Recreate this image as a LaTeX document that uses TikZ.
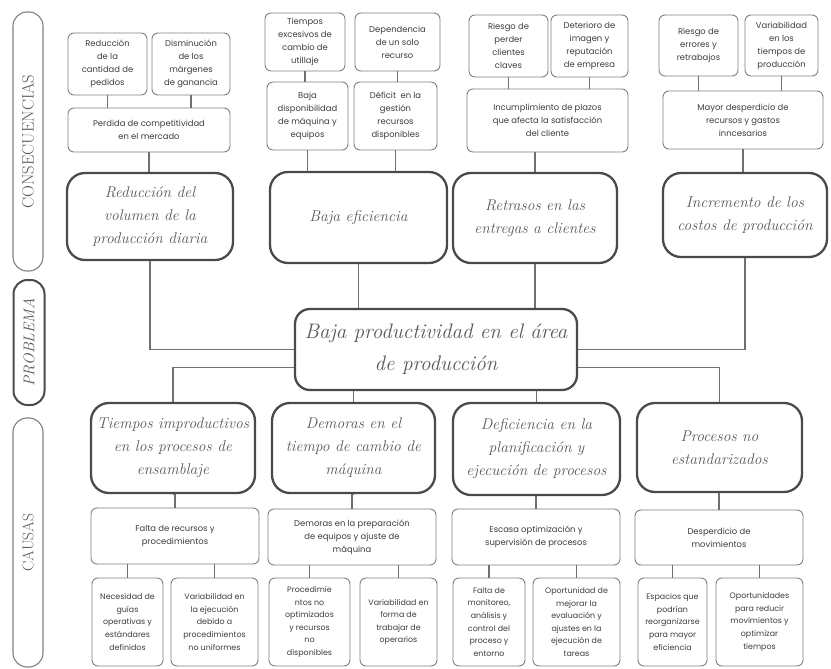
\documentclass[tikz,border=0pt]{standalone}
\usepackage{fontspec}
\newfontfamily\popfont{Poppins}
\definecolor{linec}{HTML}{707070}
\definecolor{boxc}{HTML}{808080}
\definecolor{bigc}{HTML}{4A4A4A}
\definecolor{txtc}{HTML}{3C3C3C}
\definecolor{bigtxt}{HTML}{585858}
\tikzset{
  sbox/.style={draw=boxc, line width=0.9pt, rounded corners=6pt, align=center, inner sep=1pt,
    text=txtc, font=\popfont\fontsize{8.4}{13}\selectfont},
  tbox/.style={sbox, font=\popfont\fontsize{7.9}{12.6}\selectfont},
  bbox/.style={draw=bigc, line width=2.3pt, rounded corners=18pt, align=center, inner sep=2pt,
    text=bigtxt, font=\fontsize{15.5}{23}\selectfont\itshape},
  pbox/.style={bbox, rounded corners=15pt, font=\fontsize{21}{32}\selectfont\itshape},
  pill/.style={draw=boxc, line width=1.1pt, rounded corners=14pt},
  pillb/.style={draw=bigc, line width=2pt, rounded corners=14pt},
  sidetxt/.style={rotate=90, text=bigtxt, inner sep=0pt},
  conn/.style={draw=linec, line width=1.1pt}
}
\begin{document}
\begin{tikzpicture}[x=1pt,y=-1pt]
\useasboundingbox (0,0) rectangle (831,669);
% side labels
\node[pill, minimum width=30pt, minimum height=259pt] (L1) at (28,141.5) {};
\node[sidetxt, font=\fontsize{16.5}{16}\selectfont] (L1t) at (L1) {CONSECUENCIAS};
\node[pillb, minimum width=31pt, minimum height=125pt] (L2) at (29,342.5) {};
\node[sidetxt, font=\fontsize{15.5}{15}\selectfont\itshape] (L2t) at (L2) {PROBLEMA};
\node[pill, minimum width=30pt, minimum height=249pt] (L3) at (28,542.5) {};
\node[sidetxt, font=\fontsize{15.5}{15}\selectfont] (L3t) at (L3) {CAUSAS};

% consequences column 1
\node[sbox, minimum width=79pt, minimum height=62pt] (c1a) at (107.5,64) {Reducción\\de la\\cantidad de\\pedidos};
\node[sbox, minimum width=78pt, minimum height=62pt] (c1b) at (191,64) {Disminución\\de los\\márgenes\\de ganancia};
\node[sbox, minimum width=162pt, minimum height=44pt] (c1m) at (149,130) {Perdida de competitividad\\en el mercado};
\node[bbox, minimum width=166pt, minimum height=87pt] (C1) at (150,216.5) {Reducción del\\volumen de la\\producción diaria};
% column 2
\node[sbox, minimum width=80pt, minimum height=58pt] (c2a) at (305,42) {Tiempos\\excesivos de\\cambio de\\utillaje};
\node[sbox, minimum width=85pt, minimum height=58pt] (c2b) at (397.5,42) {Dependencia\\de un solo\\recurso};
\node[sbox, minimum width=81pt, minimum height=68pt] (c2c) at (307.5,116) {Baja\\disponibilidad\\de máquina y\\equipos};
\node[sbox, minimum width=83pt, minimum height=68pt] (c2d) at (395.5,116) {Déficit\ \ en la\\gestión\\recursos\\disponibles};
\node[bbox, minimum width=177pt, minimum height=91pt] (C2) at (358.5,217.5) {Baja eficiencia};
% column 3
\node[sbox, minimum width=79pt, minimum height=62pt] (c3a) at (508.5,46) {Riesgo de\\perder\\clientes\\claves};
\node[sbox, minimum width=77pt, minimum height=62pt] (c3b) at (589.5,46) {Deterioro de\\imagen y\\reputación\\de empresa};
\node[sbox, minimum width=161pt, minimum height=63pt] (c3m) at (547.5,120.5) {Incumplimiento de plazos\\que afecta la satisfacción\\del cliente};
\node[bbox, minimum width=164pt, minimum height=90pt] (C3) at (535,218) {Retrasos en las\\entregas a clientes};
% column 4
\node[sbox, minimum width=79pt, minimum height=61pt] (c4a) at (698.5,45.5) {Riesgo de\\errores y\\retrabajos};
\node[sbox, minimum width=73pt, minimum height=61pt] (c4b) at (781.5,45.5) {Variabilidad\\en los\\tiempos de\\producción};
\node[sbox, minimum width=160pt, minimum height=58pt] (c4m) at (743,120) {Mayor desperdicio de\\recursos y gastos\\inncesarios};
\node[bbox, minimum width=164pt, minimum height=84pt] (C4) at (745,215) {Incremento de los\\costos de producción};

% problem
\node[pbox, minimum width=282pt, minimum height=81pt] (P) at (436,349.5) {Baja productividad en el área\\de producción};

% causes
\node[bbox, minimum width=164pt, minimum height=90pt] (K1) at (173,448) {Tiempos improductivos\\en los procesos de\\ensamblaje};
\node[bbox, minimum width=163pt, minimum height=90pt] (K2) at (353.5,448) {Demoras en el\\tiempo de cambio de\\máquina};
\node[bbox, minimum width=167pt, minimum height=92pt] (K3) at (536.5,449) {Deficiencia en la\\planificación y\\ejecución de procesos};
\node[bbox, minimum width=165pt, minimum height=89pt] (K4) at (719.5,447.5) {Procesos no\\estandarizados};

\node[sbox, minimum width=168pt, minimum height=56pt] (k1m) at (175,536) {Falta de recursos y\\procedimientos};
\node[sbox, minimum width=168pt, minimum height=56pt] (k2m) at (352,537) {Demoras en la preparación\\de equipos y ajuste de\\máquina};
\node[sbox, minimum width=168pt, minimum height=56pt] (k3m) at (536,537) {Escasa optimización y\\supervisión de procesos};
\node[sbox, minimum width=168pt, minimum height=55pt] (k4m) at (719,537.5) {Desperdicio de\\movimientos};

\node[tbox, minimum width=71pt, minimum height=88pt] (k1a) at (127.5,622) {Necesidad de\\guías\\operativas y\\estándares\\definidos};
\node[tbox, minimum width=87pt, minimum height=88pt] (k1b) at (214.5,622) {Variabilidad en\\la ejecución\\debido a\\procedimientos\\no uniformes};
\node[tbox, minimum width=81pt, minimum height=88pt] (k2a) at (309.5,622) {Procedimie\\ntos no\\optimizados\\y recursos\\no\\disponibles};
\node[tbox, minimum width=77pt, minimum height=88pt] (k2b) at (398.5,622) {Variabilidad en\\forma de\\trabajar de\\operarios};
\node[tbox, minimum width=72pt, minimum height=88pt] (k3a) at (489,622) {Falta de\\monitoreo,\\análisis y\\control del\\proceso y\\entorno};
\node[tbox, minimum width=87pt, minimum height=88pt] (k3b) at (576.5,622) {Oportunidad de\\mejorar la\\evaluación y\\ajustes en la\\ejecución de\\tareas};
\node[tbox, minimum width=69pt, minimum height=88pt] (k4a) at (672.5,622) {Espacios que\\podrían\\reorganizarse\\para mayor\\eficiencia};
\node[tbox, minimum width=87pt, minimum height=88pt] (k4b) at (759.5,622) {Oportunidades\\para reducir\\movimientos y\\optimizar\\tiempos};

% connectors: consequences
\foreach \a/\m in {c1a/c1m,c1b/c1m,c3a/c3m,c3b/c3m,c4a/c4m,c4b/c4m,c2a/c2c,c2b/c2d}
  \draw[conn] (\a.south) -- (\a.south |- \m.north);
\draw[conn] (c1m.south) -- (c1m.south |- C1.north);
\draw[conn] (c3m.south -| C3.north) -- (C3.north);
\draw[conn] (c4m.south) -- (c4m.south |- C4.north);
\draw[conn] (c2c.south) -- (c2c.south |- C2.north);
\draw[conn] (c2d.south) -- (c2d.south |- C2.north);
\draw[conn] (C1.south) |- (P.west);
\draw[conn] (C4.south) |- (P.east);
\draw[conn] (C2.south) -- (C2.south |- P.north);
\draw[conn] (C3.south) -- (C3.south |- P.north);
% connectors: causes
\draw[conn] ([yshift=-18pt]P.west) -| (K1.north);
\draw[conn] ([yshift=-18pt]P.east) -| (K4.north);
\draw[conn] (P.south -| K2.north) -- (K2.north);
\draw[conn] (P.south -| K3.north) -- (K3.north);
\foreach \k/\m in {K1/k1m,K2/k2m,K3/k3m,K4/k4m}
  \draw[conn] (\k.south) -- (\k.south -| \m.north) -- (\m.north);
\foreach \m/\a in {k1m/k1a,k1m/k1b,k2m/k2a,k2m/k2b,k3m/k3a,k3m/k3b,k4m/k4a,k4m/k4b}
  \draw[conn] (\a.north |- \m.south) -- (\a.north);
\end{tikzpicture}
\end{document}
